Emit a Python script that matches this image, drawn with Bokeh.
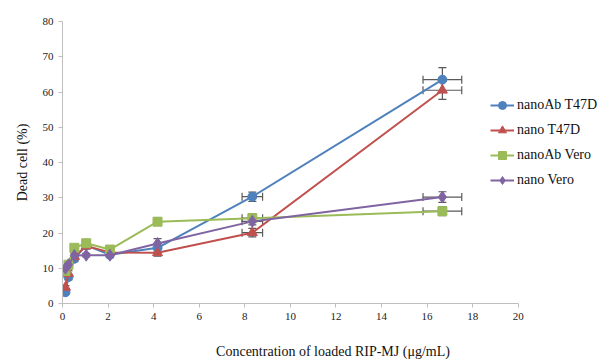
from bokeh.plotting import figure
from bokeh.models import ColumnDataSource, Whisker, Legend, LegendItem, Range1d, FixedTicker, TeeHead
from bokeh.embed import file_html
from bokeh.resources import INLINE

conc = [0.13, 0.26, 0.52, 1.04, 2.08, 4.17, 8.33, 16.67]
conc_err = [0, 0, 0, 0, 0, 0, 0.45, 0.85]
series_names = ["nanoAb T47D", "nano T47D", "nanoAb Vero", "nano Vero"]
nanoAb_T47D = [3.2, 7.5, 12.7, 16.5, 13.8, 15.8, 30.3, 63.5]
nano_T47D = [4.6, 8.5, 13.3, 16.3, 14.5, 14.4, 20.1, 60.5]
nanoAb_Vero = [9.2, 11.0, 15.8, 17.1, 15.3, 23.2, 24.2, 26.2]
nano_Vero = [10.0, 11.0, 13.6, 13.7, 13.7, 17.0, 23.3, 30.2]
err_nanoAb_T47D = [0.5, 0.8, 0.8, 0.8, 0.8, 1.2, 1.3, 3.4]
err_nano_T47D = [0.5, 0.8, 0.8, 0.8, 0.8, 1.0, 1.2, 2.6]
err_nanoAb_Vero = [0.5, 0.5, 0.8, 0.8, 0.8, 1.0, 1.2, 1.3]
err_nano_Vero = [0.5, 0.5, 0.8, 0.5, 0.5, 1.4, 1.0, 1.5]
x_ticks = [0, 2, 4, 6, 8, 10, 12, 14, 16, 18, 20]
y_ticks = [0, 10, 20, 30, 40, 50, 60, 70, 80]

colors = ["#4F81BD", "#C0504D", "#9BBB59", "#8064A2"]
markers = ["circle", "triangle", "square", "diamond"]
msizes = [9, 10, 9, 12]
values = [nanoAb_T47D, nano_T47D, nanoAb_Vero, nano_Vero]
errs = [err_nanoAb_T47D, err_nano_T47D, err_nanoAb_Vero, err_nano_Vero]

FONT = "Liberation Serif"
p = figure(width=603, height=363, output_backend="svg", toolbar_location=None,
           x_range=Range1d(0, 23.74), y_range=Range1d(0, 80),
           min_border_left=62, min_border_right=0, min_border_top=21, min_border_bottom=60)
p.outline_line_color = None
p.xgrid.visible = False
p.ygrid.visible = False

for ax in (p.xaxis[0], p.yaxis[0]):
    ax.axis_line_color = "#BFBFBF"
    ax.major_tick_line_color = "#BFBFBF"
    ax.major_tick_in = 0
    ax.major_tick_out = 4
    ax.minor_tick_line_color = None
    ax.major_label_text_font = FONT
    ax.major_label_text_font_size = "11px"
    ax.major_label_text_color = "#222222"
    ax.axis_label_text_font = FONT
    ax.axis_label_text_font_size = "14px"
    ax.axis_label_text_font_style = "normal"
    ax.axis_label_text_color = "#111111"
p.xaxis.ticker = FixedTicker(ticks=x_ticks)
p.yaxis.ticker = FixedTicker(ticks=y_ticks)
p.xaxis.bounds = (x_ticks[0], x_ticks[-1])
p.xaxis.axis_label = "Concentration of loaded RIP-MJ (μg/mL)"
p.yaxis.axis_label = "Dead cell (%)"
p.xaxis.axis_label_standoff = 21
p.yaxis.axis_label_standoff = 10
p.xaxis.major_label_standoff = 5

items = []
for name, vals, err, col, mk, ms in zip(series_names, values, errs, colors, markers, msizes):
    src = ColumnDataSource(dict(
        x=conc, y=vals,
        ylo=[v - e for v, e in zip(vals, err)], yhi=[v + e for v, e in zip(vals, err)],
        xlo=[c - e for c, e in zip(conc, conc_err)], xhi=[c + e for c, e in zip(conc, conc_err)],
    ))
    ln = p.line("x", "y", source=src, line_color=col, line_width=2)
    sc = p.scatter("x", "y", source=src, marker=mk, size=ms, fill_color=col, line_color=col)
    yw = Whisker(source=src, base="x", lower="ylo", upper="yhi", dimension="height",
                 line_color="#595959", line_width=1.2,
                 upper_head=TeeHead(size=8, line_color="#595959", line_width=1.2),
                 lower_head=TeeHead(size=8, line_color="#595959", line_width=1.2))
    p.add_layout(yw)
    n = sum(1 for e in conc_err if e == 0)
    src2 = ColumnDataSource(dict(y=vals[n:], xlo=src.data["xlo"][n:], xhi=src.data["xhi"][n:]))
    xw = Whisker(source=src2, base="y", lower="xlo", upper="xhi", dimension="width",
                 line_color="#595959", line_width=1.2,
                 upper_head=TeeHead(size=8, line_color="#595959", line_width=1.2),
                 lower_head=TeeHead(size=8, line_color="#595959", line_width=1.2))
    p.add_layout(xw)
    items.append(LegendItem(label=name, renderers=[ln, sc]))

legend = Legend(items=items, location=(428, 113), border_line_color=None,
                background_fill_alpha=0, label_text_font=FONT, label_text_font_size="14px",
                label_text_color="#111111", glyph_width=24, glyph_height=20, spacing=5,
                padding=5, margin=0, label_standoff=3)
p.add_layout(legend)

open("out.html", "w").write(file_html(p, INLINE))
